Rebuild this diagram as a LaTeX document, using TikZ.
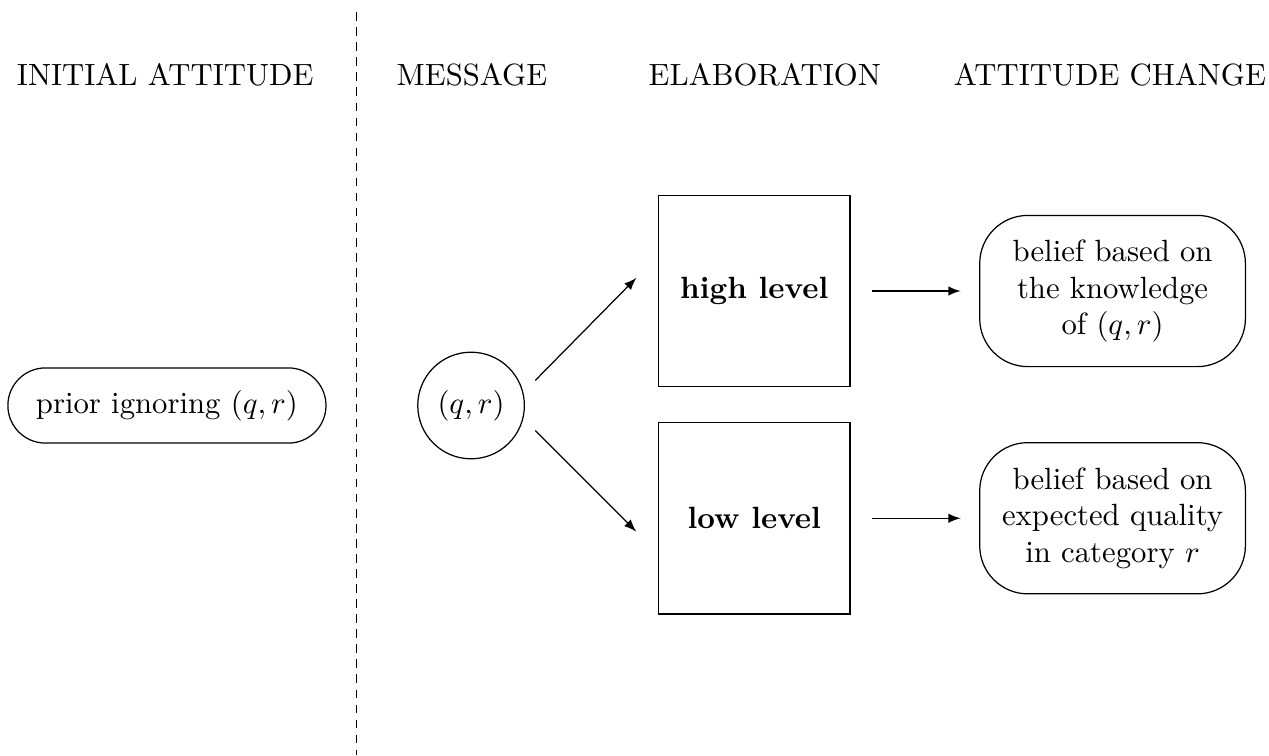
\documentclass[tikz,border=0pt]{standalone}
\usetikzlibrary{shapes.misc}

\newcommand{\RowY}{4.00}
\newcommand{\TopY}{5.31}
\newcommand{\LowY}{2.71}
\newcommand{\HeadY}{7.78}

\tikzset{
    pill/.style={draw, rounded rectangle, minimum width=3.64cm, minimum height=0.86cm, inner sep=0pt},
    msgcircle/.style={draw, circle, minimum size=1.22cm, inner sep=0pt},
    elabbox/.style={draw, rectangle, minimum size=2.19cm, inner sep=0pt, font=\bfseries},
    beliefbox/.style={draw, rounded corners=0.55cm, minimum width=3.04cm, minimum height=1.73cm, align=center, inner sep=0pt},
    arr/.style={-latex, thin}
}

\begin{document}
\begin{tikzpicture}
\useasboundingbox (0,0) rectangle (14.52,8.64);

\coordinate (T) at (4.08,8.50);
\coordinate (U) at (4.08,0);
\draw[dash pattern=on 2.8pt off 2.1pt] (T) -- (U);% Divider

% Column titles
\foreach \x/\txt [count=\i] in {1.89/INITIAL ATTITUDE, 5.40/MESSAGE, 8.75/ELABORATION, 12.70/ATTITUDE CHANGE}{
    \node (head\i) at (\x,\HeadY) {\txt};
}

\node[pill] (prior) at (1.91,\RowY) {prior ignoring $(q,r)$};% Left
\node[msgcircle] (msg) at (5.39,\RowY) {$(q,r)$};% Message
\node[elabbox] (high) at (8.63,\TopY) {high level};
\node[elabbox] (low) at (8.63,\LowY) {low level};
\node[beliefbox] (know) at (12.73,\TopY) {belief based on\\the knowledge\\of $(q,r)$};
\node[beliefbox] (cat) at (12.73,\LowY) {belief based on\\expected quality\\in category $r$};

\draw[arr, shorten <=5.5pt, shorten >=10pt] (msg.14) -- (high.160);
\draw[arr, shorten <=5.5pt, shorten >=10pt] (msg.-14) -- (low.200);
\draw[arr, shorten <=7pt, shorten >=6pt] (high.east) -- (know.west);
\draw[arr, shorten <=7pt, shorten >=6pt] (low.east) -- (cat.west);
\end{tikzpicture}
\end{document}
